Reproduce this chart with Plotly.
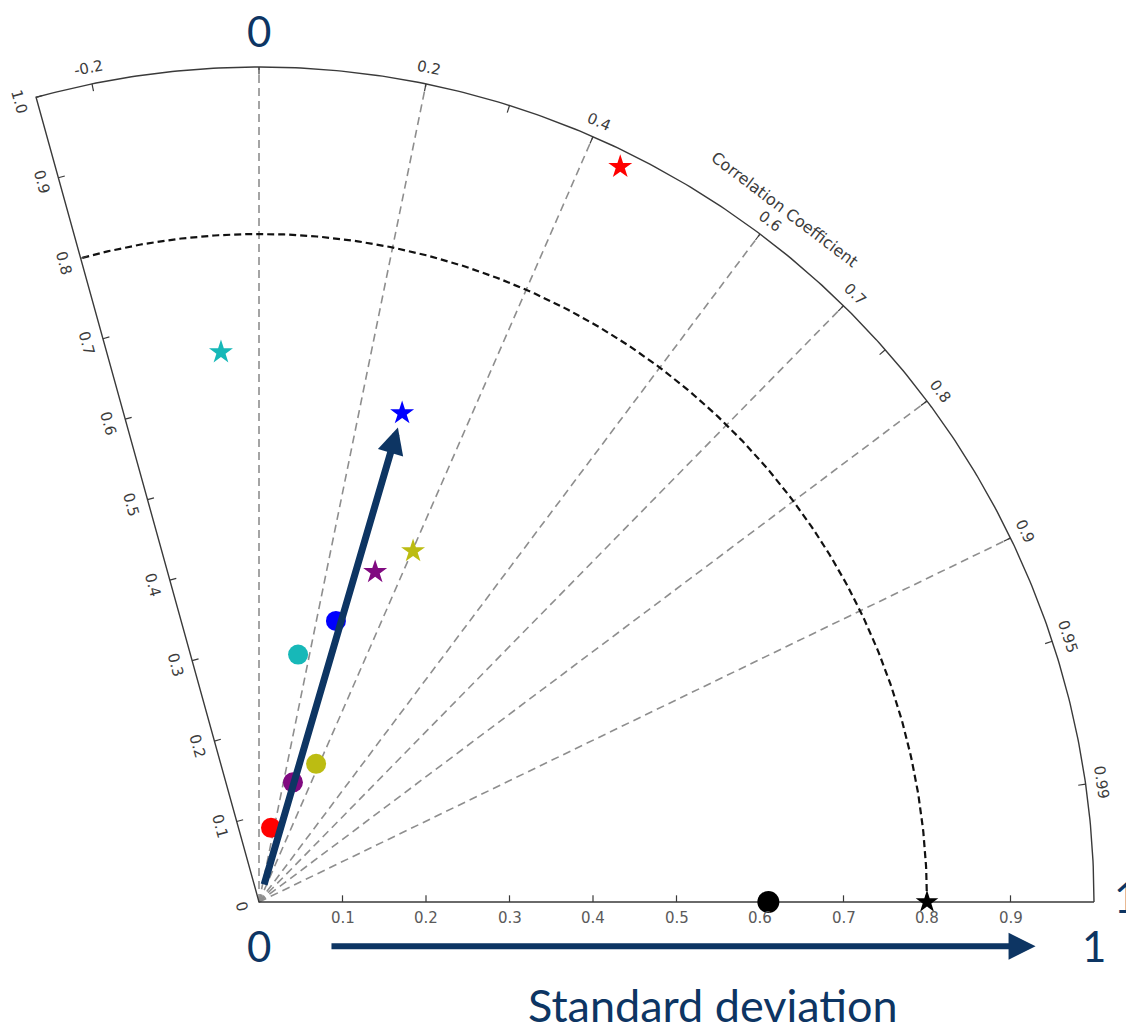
import numpy as np
import plotly.graph_objects as go

# ---------------- data ----------------
corr_ticks = [-0.2, 0.2, 0.4, 0.6, 0.7, 0.8, 0.9, 0.95, 0.99]
corr_tick_labels = ["-0.2", "0.2", "0.4", "0.6", "0.7", "0.8", "0.9", "0.95", "0.99"]
corr_minor_ticks = [0.0, 0.3, 0.75]
corr_grid = [0.0, 0.2, 0.4, 0.6, 0.7, 0.8, 0.9]
std_ticks = [0.1, 0.2, 0.3, 0.4, 0.5, 0.6, 0.7, 0.8, 0.9]
std_tick_labels = ["0.1", "0.2", "0.3", "0.4", "0.5", "0.6", "0.7", "0.8", "0.9"]
edge_ticks = [0.0, 0.1, 0.2, 0.3, 0.4, 0.5, 0.6, 0.7, 0.8, 0.9, 1.0]
edge_tick_labels = ["0", "0.1", "0.2", "0.3", "0.4", "0.5", "0.6", "0.7", "0.8", "0.9", "1.0"]
std_max = 1.0
ref_std = 0.8
edge_corr = -0.267

star_colors = ["#ff0000", "#17b8b8", "#0000ff", "#bcbc12", "#800a80"]
star_std = [0.981, 0.660, 0.610, 0.459, 0.419]
star_corr = [0.441, -0.069, 0.281, 0.402, 0.332]

circle_colors = ["#ff0000", "#17b8b8", "#0000ff", "#bcbc12", "#800a80"]
circle_std = [0.090, 0.300, 0.349, 0.179, 0.149]
circle_corr = [0.16, 0.156, 0.264, 0.382, 0.273]

obs_circle_std = 0.61
obs_star_std = 0.80
arrow_target = 2  # index of the blue star the arrow points to

NAVY = "#0d3563"


def xy(s, c):
    s = np.asarray(s, dtype=float)
    c = np.asarray(c, dtype=float)
    return s * c, s * np.sqrt(1 - c ** 2)


fig = go.Figure()

theta_edge = np.arccos(edge_corr)
th = np.linspace(0, theta_edge, 300)

# radial grid lines (grey dashed)
gx, gy = [], []
for c in corr_grid:
    x1, y1 = xy(std_max, c)
    gx += [0, float(x1), None]
    gy += [0, float(y1), None]
fig.add_trace(go.Scatter(x=gx, y=gy, mode="lines",
                         line=dict(color="#8e8e8e", width=1.6, dash="8px,5px"),
                         hoverinfo="skip"))

# reference std arc (black dashed)
fig.add_trace(go.Scatter(x=ref_std * np.cos(th), y=ref_std * np.sin(th), mode="lines",
                         line=dict(color="#111111", width=2.2, dash="7px,4px"),
                         hoverinfo="skip"))

# frame: outer arc, left edge, x axis
fx = list(std_max * np.cos(th)) + [0, std_max]
fy = list(std_max * np.sin(th)) + [0, 0]
fig.add_trace(go.Scatter(x=fx, y=fy, mode="lines",
                         line=dict(color="#3a3a3a", width=1.4), hoverinfo="skip"))

# correlation ticks (inward)
tx, ty = [], []
for c in corr_ticks + corr_minor_ticks:
    a = np.arccos(c)
    tx += [std_max * np.cos(a), (std_max - 0.009) * np.cos(a), None]
    ty += [std_max * np.sin(a), (std_max - 0.009) * np.sin(a), None]
# std ticks on x axis (upward)
for s in std_ticks:
    tx += [s, s, None]
    ty += [0, 0.008, None]
# std ticks on left edge (inward)
ex, ey = np.cos(theta_edge), np.sin(theta_edge)
nx, ny = np.cos(theta_edge - np.pi / 2), np.sin(theta_edge - np.pi / 2)
for s in edge_ticks[1:]:
    tx += [s * ex, s * ex + 0.008 * nx, None]
    ty += [s * ey, s * ey + 0.008 * ny, None]
fig.add_trace(go.Scatter(x=tx, y=ty, mode="lines",
                         line=dict(color="#3a3a3a", width=1.2), hoverinfo="skip"))

# model points: circles
cx, cy = xy(circle_std, circle_corr)
fig.add_trace(go.Scatter(x=cx, y=cy, mode="markers",
                         marker=dict(symbol="circle", size=20, color=circle_colors),
                         hoverinfo="skip"))
# model points: stars
sx, sy = xy(star_std, star_corr)
fig.add_trace(go.Scatter(x=sx, y=sy, mode="markers",
                         marker=dict(symbol="star", size=18, color=star_colors),
                         hoverinfo="skip"))
# reference points
fig.add_trace(go.Scatter(x=[obs_circle_std], y=[0], mode="markers",
                         marker=dict(symbol="circle", size=22, color="black"),
                         hoverinfo="skip"))
fig.add_trace(go.Scatter(x=[obs_star_std], y=[0], mode="markers",
                         marker=dict(symbol="star", size=17, color="black"),
                         hoverinfo="skip"))

annotations = []
TICKFONT = dict(family="DejaVu Sans", size=15, color="#3c3c3c")

# correlation tick labels
for c, lab in zip(corr_ticks, corr_tick_labels):
    a = np.arccos(c)
    r = 1.019
    annotations.append(dict(x=r * np.cos(a), y=r * np.sin(a), text=lab, showarrow=False,
                            textangle=90 - np.degrees(a), font=TICKFONT,
                            xanchor="center", yanchor="middle"))
# correlation axis title
a_t = np.radians(52.8)
annotations.append(dict(x=1.041 * np.cos(a_t), y=1.041 * np.sin(a_t), text="Correlation Coefficient",
                        showarrow=False, textangle=90 - np.degrees(a_t),
                        font=dict(family="DejaVu Sans", size=16, color="#3c3c3c")))
# std labels along x axis
for s, lab in zip(std_ticks, std_tick_labels):
    annotations.append(dict(x=s, y=-0.019, text=lab, showarrow=False,
                            font=dict(family="DejaVu Sans", size=15, color="#5a5a5a")))
# std labels along left edge
onx, ony = -nx, -ny
for s, lab in zip(edge_ticks, edge_tick_labels):
    annotations.append(dict(x=s * ex + 0.021 * onx, y=s * ey + 0.021 * ony, text=lab,
                            showarrow=False, textangle=180 - np.degrees(theta_edge),
                            font=TICKFONT))

# big blue annotations
BIG = dict(family="Lato", size=42, color=NAVY)
annotations += [
    dict(x=0, y=1.043, text="0", showarrow=False, font=BIG),
    dict(x=0, y=-0.053, text="0", showarrow=False, font=BIG),
    dict(x=std_max, y=-0.053, text="1", showarrow=False, font=BIG),
    dict(x=std_max + 0.021, y=0.006, text="1", showarrow=False, font=BIG, xanchor="left"),
    dict(x=0.544, y=-0.123, text="Standard deviation", showarrow=False,
         font=dict(family="Lato", size=45, color=NAVY)),
]
# bottom arrow (standard deviation direction)
annotations.append(dict(x=0.93, y=-0.053, ax=0.085, ay=-0.053, xref="x", yref="y",
                        axref="x", ayref="y", text="", showarrow=True,
                        arrowhead=2, arrowsize=0.9, arrowwidth=6, arrowcolor=NAVY, standoff=0))
# diagonal arrow to the blue star
bx, by = sx[arrow_target], sy[arrow_target]
br = star_std[arrow_target]
annotations.append(dict(x=bx * (br - 0.018) / br, y=by * (br - 0.018) / br,
                        ax=bx * 0.02 / br, ay=by * 0.02 / br, xref="x", yref="y",
                        axref="x", ayref="y", text="", showarrow=True,
                        arrowhead=2, arrowsize=0.75, arrowwidth=7, arrowcolor=NAVY, standoff=0))

# page body has an 8px margin: size the figure so it fits the window
W, H = 1126, 1023
PX = 835.0
ox, oy = 251, 894
fig.update_layout(
    width=W, height=H, autosize=False,
    margin=dict(l=0, r=0, t=0, b=0),
    paper_bgcolor="white", plot_bgcolor="white",
    showlegend=False,
    xaxis=dict(range=[-ox / PX, (W - ox) / PX], visible=False, fixedrange=True),
    yaxis=dict(range=[-(H - oy) / PX, oy / PX], visible=False, fixedrange=True),
    annotations=annotations,
)

fig.write_html("out.html")
